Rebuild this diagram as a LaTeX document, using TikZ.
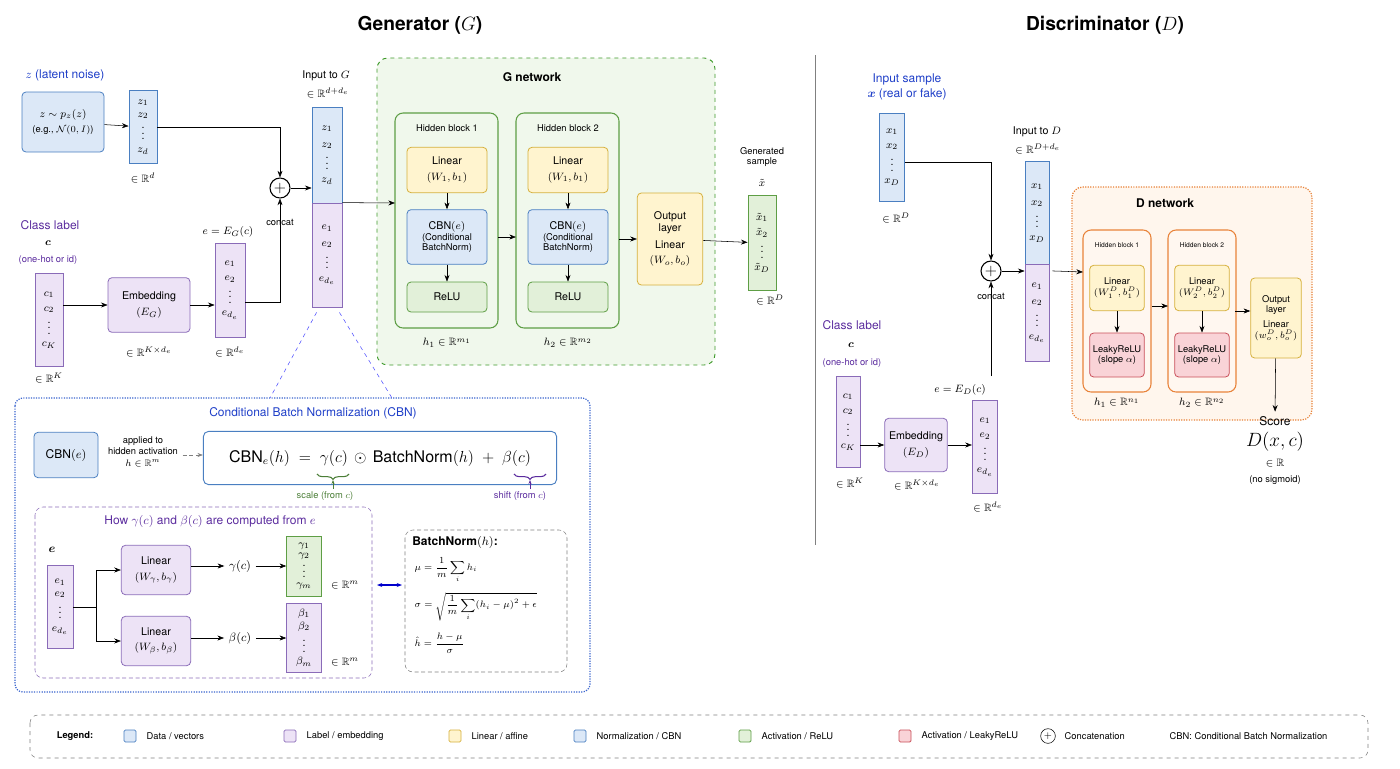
\documentclass[tikz,border=0pt]{standalone}
\usepackage{fontspec}
\setmainfont{TeX Gyre Heros}
\usepackage{amsmath}
\usepackage{amssymb}
\usetikzlibrary{arrows.meta,decorations.pathreplacing,calc}
\definecolor{datafill}{HTML}{DCE8F7}\definecolor{datadraw}{HTML}{4A7FC1}
\definecolor{labfill}{HTML}{EDE3F6}\definecolor{labdraw}{HTML}{8A6BB8}
\definecolor{linfill}{HTML}{FFF4CF}\definecolor{lindraw}{HTML}{D6B03C}
\definecolor{actfill}{HTML}{E2F0D9}\definecolor{actdraw}{HTML}{5E9E45}
\definecolor{lrfill}{HTML}{F9D3D7}\definecolor{lrdraw}{HTML}{C9505A}
\definecolor{orng}{HTML}{E8833A}\definecolor{gnet}{HTML}{3E9A2A}
\definecolor{titblue}{HTML}{1F3FC8}\definecolor{titpurp}{HTML}{5B2C9E}
\tikzset{
  every node/.style={font=\footnotesize},
  box/.style={draw, rounded corners=3pt, align=center, inner sep=1pt, line width=0.6pt},
  databox/.style={box, fill=datafill, draw=datadraw},
  labbox/.style={box, fill=labfill, draw=labdraw},
  linbox/.style={box, fill=linfill, draw=lindraw},
  actbox/.style={box, fill=actfill, draw=actdraw},
  lrbox/.style={box, fill=lrfill, draw=lrdraw},
  vecd/.style={draw=datadraw, fill=datafill, align=center, inner sep=0pt, line width=0.6pt},
  vecl/.style={draw=labdraw, fill=labfill, align=center, inner sep=0pt, line width=0.6pt},
  vecg/.style={draw=actdraw, fill=actfill, align=center, inner sep=0pt, line width=0.6pt},
  blk/.style={draw=actdraw, rounded corners=6pt, line width=0.8pt},
  blkd/.style={draw=orng, fill=orange!6, rounded corners=6pt, line width=0.8pt},
  arr/.style={-{Stealth[length=5pt]}, thin},
  cat/.style={circle, draw, thick, minimum size=15pt, inner sep=0pt, font=\large},
}
\begin{document}
\begin{tikzpicture}[x=0.75pt,y=-0.75pt]
\useasboundingbox (0,0) rectangle (1400,768);
% titles
\node[font=\bfseries\Large] at (420,25) {Generator ($G$)};
\node[font=\bfseries\Large] at (1105,25) {Discriminator ($D$)};
\draw[gray] (815,55) -- (815,545);
% ---------------- generator inputs
\node[text=titblue, font=\small] at (65,75) {$z$ (latent noise)};
\node[databox, minimum width=61.5pt, minimum height=45pt] (zsrc) at (63,122) {$z\sim p_z(z)$\\[2pt]{\scriptsize (e.g., $\mathcal{N}(0,I)$)}};
\node[vecd, minimum width=21pt, minimum height=55pt] (zvec) at (143,127) {$z_1$\\$z_2$\\$\vdots$\\$z_d$};
\node at (143,178) {$\in\mathbb{R}^d$};
\node[cat] (catG) at (280,188) {$+$};
\node[font=\scriptsize] at (280,222) {concat};
\node[text=titpurp, font=\small] at (50,225) {Class label};
\node at (48,243) {$\boldsymbol{c}$};
\node[text=titpurp, font=\scriptsize] at (48,260) {(one-hot or id)};
\node[vecl, minimum width=21pt, minimum height=70pt] (cvec) at (49,320) {$c_1$\\[2pt]$c_2$\\$\vdots$\\$c_K$};
\node at (49,378) {$\in\mathbb{R}^K$};
\node[labbox, minimum width=61.5pt, minimum height=41pt] (embG) at (149,305) {Embedding\\[3pt]$(E_G)$};
\node at (149,352) {$\in\mathbb{R}^{K\times d_e}$};
\node at (228,232) {$e=E_G(c)$};
\node[vecl, minimum width=22.5pt, minimum height=70.5pt] (evec) at (230,290) {$e_1$\\[2pt]$e_2$\\$\vdots$\\$e_{d_e}$};
\node at (230,352) {$\in\mathbb{R}^{d_e}$};
\node at (326,76) {Input to $G$};
\node at (328,93) {$\in\mathbb{R}^{d+d_e}$};
\node[vecd, minimum width=22.5pt, minimum height=72pt] (inGz) at (327,155) {$z_1$\\[3pt]$z_2$\\$\vdots$\\$z_d$};
\node[vecl, minimum width=22.5pt, minimum height=78pt] (inGe) at (327,255) {$e_1$\\[3pt]$e_2$\\$\vdots$\\$e_{d_e}$};
\draw[arr] (zsrc) -- (zvec);
\draw[arr] (cvec.east |- embG) -- (embG);
\draw[arr] (embG) -- (evec.west |- embG);
\draw[arr] (zvec.east |- 0,127) -| (catG);
\draw[arr] (evec.east |- 0,302) -| (catG);
\draw[arr] (catG) -- (inGz.south west |- catG);
% ---------------- G network
\draw[gnet, dashed, fill=actfill!50, rounded corners=8pt, line width=0.7pt] (377,58) rectangle (715,365);
\node[font=\bfseries\small] at (532,77) {G network};
\foreach \i/\cx in {1/447,2/568}{
  \draw[blk] (\cx-52,113) rectangle (\cx+51,328);
  \node[font=\scriptsize] at (\cx,128) {Hidden block \i};
  \node[linbox, minimum width=60pt, minimum height=34pt] (linG\i) at (\cx,170) {Linear\\[2pt]$(W_1,b_1)$};
  \node[databox, minimum width=60pt, minimum height=41pt] (cbnG\i) at (\cx,237) {CBN$(e)$\\[-1pt]{\scriptsize (Conditional}\\[-2pt]{\scriptsize BatchNorm)}};
  \node[actbox, minimum width=60pt, minimum height=22.5pt] (reluG\i) at (\cx,297) {ReLU};
  \node at (\cx,343) {$h_\i\in\mathbb{R}^{m_\i}$};
  \draw[arr] (linG\i) -- (cbnG\i);
  \draw[arr] (cbnG\i) -- (reluG\i);
}
\node[linbox, minimum width=49pt, minimum height=69pt] (outG) at (670,239) {Output\\layer\\[3pt]Linear\\[2pt]$(W_o,b_o)$};
\node[font=\scriptsize, align=center] at (762,157) {Generated\\sample};
\node at (762,183) {$\tilde{x}$};
\node[vecg, minimum width=21pt, minimum height=71pt] (gen) at (762,243) {$\tilde x_1$\\[2pt]$\tilde x_2$\\$\vdots$\\$\tilde x_D$};
\node at (770,300) {$\in\mathbb{R}^D$};
\coordinate (hb1in) at (395,203);
\draw[arr] (inGe.north east) -- (hb1in);
\draw[arr] (cbnG1.east) ++(11,0) -- (516,237);
\draw[arr] (619,239) -- (outG.west);
\draw[arr] (outG) -- (gen);
% ---------------- CBN detail
\draw[datadraw!80!blue, densely dotted, line width=0.9pt, rounded corners=6pt] (15,398) rectangle (590,692);
\draw[blue!70, dashed] (inGe.south west) ++(5,5) -- (270,398);
\draw[blue!70, dashed] (inGe.south east) ++(-3,5) -- (392,398);
\node[text=titblue, font=\small] at (313,413) {Conditional Batch Normalization (CBN)};
\node[databox, minimum width=48pt, minimum height=34pt] (cbnE) at (66,455) {\small CBN$(e)$};
\node[font=\scriptsize, align=center] (appl) at (143,452) {applied to\\hidden activation\\[1pt]$h\in\mathbb{R}^m$};
\node[draw=datadraw, rounded corners=4pt, line width=0.7pt, minimum width=265pt, minimum height=40pt] (fml) at (380,458) {};
\node[font=\large] at (380,458) {$\mathrm{CBN}_e(h)\;=\;\gamma(c)\,\odot\,\mathrm{BatchNorm}(h)\;+\;\beta(c)$};
\draw[-{Stealth[length=4pt]}, densely dashed, gray] (appl.east |- 0,455) -- (fml.west |- 0,455);
\draw[decorate, decoration={brace, mirror, amplitude=4pt}, actdraw!80!black, thick] (317,474) -- (349,474);
\draw[decorate, decoration={brace, mirror, amplitude=4pt}, titpurp, thick] (514,474) -- (546,474);
\node[text=actdraw!80!black, font=\scriptsize] (scl) at (325,496) {scale (from $c$)};
\node[text=titpurp, font=\scriptsize] (shf) at (520,496) {shift (from $c$)};
\draw[-{Stealth[length=3pt]}, actdraw!80!black] (333,489) -- (333,480);
\draw[-{Stealth[length=3pt]}, titpurp] (530,489) -- (530,480);
\draw[labdraw, densely dashed, rounded corners=6pt] (35,507) rectangle (372,678);
\node[text=titpurp, font=\small] at (210,521) {How $\gamma(c)$ and $\beta(c)$ are computed from $e$};
\node at (52,550) {\small $\boldsymbol{e}$};
\node[vecl, minimum width=19.5pt, minimum height=62pt] (eV) at (60,607) {$e_1$\\$e_2$\\$\vdots$\\$e_{d_e}$};
\node[labbox, minimum width=52pt, minimum height=37pt] (linGam) at (156,570) {Linear\\[2pt]$(W_\gamma,b_\gamma)$};
\node[labbox, minimum width=52pt, minimum height=37pt] (linBet) at (156,641) {Linear\\[2pt]$(W_\beta,b_\beta)$};
\coordinate (br) at (96,607);
\draw (eV) -- (br);
\draw[arr] (br) |- (linGam);
\draw[arr] (br) |- (linBet);
\node (gc) at (240,566) {\small $\gamma(c)$};
\node (bc) at (240,638) {\small $\beta(c)$};
\node[vecg, minimum width=26pt, minimum height=45pt] (gV) at (304,566) {$\gamma_1$\\[-2pt]$\gamma_2$\\[-2pt]$\vdots$\\[-2pt]$\gamma_m$};
\node[vecl, minimum width=26pt, minimum height=52pt] (bV) at (304,638) {$\beta_1$\\$\beta_2$\\$\vdots$\\$\beta_m$};
\node at (345,585) {$\in\mathbb{R}^m$};
\node at (345,662) {$\in\mathbb{R}^m$};
\draw[arr] (linGam.east |- gc) -- (gc);
\draw[arr] (gc) -- (gV);
\draw[arr] (linBet.east |- bc) -- (bc);
\draw[arr] (bc) -- (bV);
\draw[gray, densely dashed, rounded corners=6pt] (405,530) rectangle (567,672);
\coordinate (bnL) at (402,585);
\draw[{Stealth[length=4pt]}-{Stealth[length=4pt]}, blue!80!black, thick] (377,585) -- (bnL);
\node[font=\small\bfseries] at (455,542) {BatchNorm$(h)$:};
\node[anchor=west, font=\scriptsize] at (410,570) {$\mu=\dfrac{1}{m}\displaystyle\sum_i h_i$};
\node[anchor=west, font=\scriptsize] at (410,607) {$\sigma=\sqrt{\dfrac{1}{m}\displaystyle\sum_i (h_i-\mu)^2+\epsilon}$};
\node[anchor=west, font=\scriptsize] at (410,643) {$\hat h=\dfrac{h-\mu}{\sigma}$};
% ---------------- discriminator
\node[text=titblue, font=\small, align=center] at (907,87) {Input sample\\$\boldsymbol{x}$ (real or fake)};
\node[vecd, minimum width=19pt, minimum height=66pt] (xvec) at (892,157) {$x_1$\\[2pt]$x_2$\\$\vdots$\\$x_D$};
\node at (896,218) {$\in\mathbb{R}^D$};
\node[cat] (catD) at (991,271) {$+$};
\node[font=\scriptsize] at (991,296) {concat};
\node at (1037,132) {Input to $D$};
\node at (1038,149) {$\in\mathbb{R}^{D+d_e}$};
\node[vecd, minimum width=18pt, minimum height=77pt] (inDx) at (1037,213) {$x_1$\\[3pt]$x_2$\\$\vdots$\\$x_D$};
\node[vecl, minimum width=18pt, minimum height=73pt] (inDe) at (1037,313) {$e_1$\\[3pt]$e_2$\\$\vdots$\\$e_{d_e}$};
\node[text=titpurp, font=\small] at (852,325) {Class label};
\node at (851,345) {$\boldsymbol{c}$};
\node[text=titpurp, font=\scriptsize] at (852,363) {(one-hot or id)};
\node[vecl, minimum width=18pt, minimum height=68pt] (cvecD) at (848,422) {$c_1$\\[2pt]$c_2$\\$\vdots$\\$c_K$};
\node at (850,483) {$\in\mathbb{R}^K$};
\node[labbox, minimum width=47pt, minimum height=40pt] (embD) at (916,445) {Embedding\\[3pt]$(E_D)$};
\node at (917,485) {$\in\mathbb{R}^{K\times d_e}$};
\node at (960,390) {$e=E_D(c)$};
\node[vecl, minimum width=19pt, minimum height=70pt] (evecD) at (985,447) {$e_1$\\[2pt]$e_2$\\$\vdots$\\$e_{d_e}$};
\node at (988,507) {$\in\mathbb{R}^{d_e}$};
\draw[arr] (cvecD.east |- embD) -- (embD);
\draw[arr] (embD) -- (evecD.west |- embD);
\draw[arr] (xvec.east |- 0,162) -| (catD);
\draw[arr] (catD |- 0,376) -- (catD);
\draw[arr] (catD) -- (inDx.south west |- catD);
% ---------------- D network
\draw[orng, densely dotted, fill=orange!7, rounded corners=8pt, line width=0.9pt] (1072,187) rectangle (1312,420);
\node[font=\bfseries\small] at (1165,203) {D network};
\foreach \i/\cx in {1/1117,2/1202}{
  \draw[blkd] (\cx-34,230) rectangle (\cx+34,392);
  \node[font=\tiny] at (\cx,245) {Hidden block \i};
  \node[linbox, minimum width=41pt, minimum height=34pt, font=\scriptsize] (linD\i) at (\cx,288) {Linear\\$(W^D_\i,b^D_\i)$};
  \node[lrbox, minimum width=41pt, minimum height=33pt, font=\scriptsize] (lrD\i) at (\cx,355) {LeakyReLU\\(slope $\alpha$)};
  \node at (\cx,403) {$h_\i\in\mathbb{R}^{n_\i}$};
  \draw[arr] (linD\i) -- (lrD\i);
}
\node[linbox, minimum width=38pt, minimum height=60pt, font=\scriptsize] (outD) at (1276,318) {Output\\layer\\[3pt]Linear\\$(w^D_o,b^D_o)$};
\node[font=\small] (score) at (1275,421) {Score};
\node[font=\Large] at (1275,442) {$D(x,c)$};
\node at (1275,463) {$\in\mathbb{R}$};
\node[font=\scriptsize] at (1275,480) {(no sigmoid)};
\draw[arr] (inDe.north east) ++(3,7) -- (1083,272);
\draw[arr] (1152,306) -- (1168,306);
\draw[arr] (1235,311) -- (outD.west |- 0,311);
\draw[arr] (outD) -- (score);
% ---------------- legend
\draw[gray, dashed, rounded corners=6pt] (30,715) rectangle (1368,758);
\node[font=\scriptsize\bfseries] at (75,736) {Legend:};
\foreach \x/\st/\txt in {130/databox/{Data / vectors}, 290/labbox/{Label / embedding}, 455/linbox/{Linear / affine}, 580/databox/{Normalization / CBN}, 745/actbox/{Activation / ReLU}, 905/lrbox/{Activation / LeakyReLU}}{
  \node[\st, minimum size=9pt, rounded corners=1pt] at (\x,736) {};
  \node[anchor=west, font=\scriptsize] at (\x+12,736) {\txt};
}
\node[circle, draw, inner sep=0pt, minimum size=11pt, font=\scriptsize\bfseries] at (1048,736) {$+$};
\node[anchor=west, font=\scriptsize] at (1060,736) {Concatenation};
\node[anchor=west, font=\scriptsize] at (1165,736) {CBN: Conditional Batch Normalization};
\end{tikzpicture}
\end{document}
